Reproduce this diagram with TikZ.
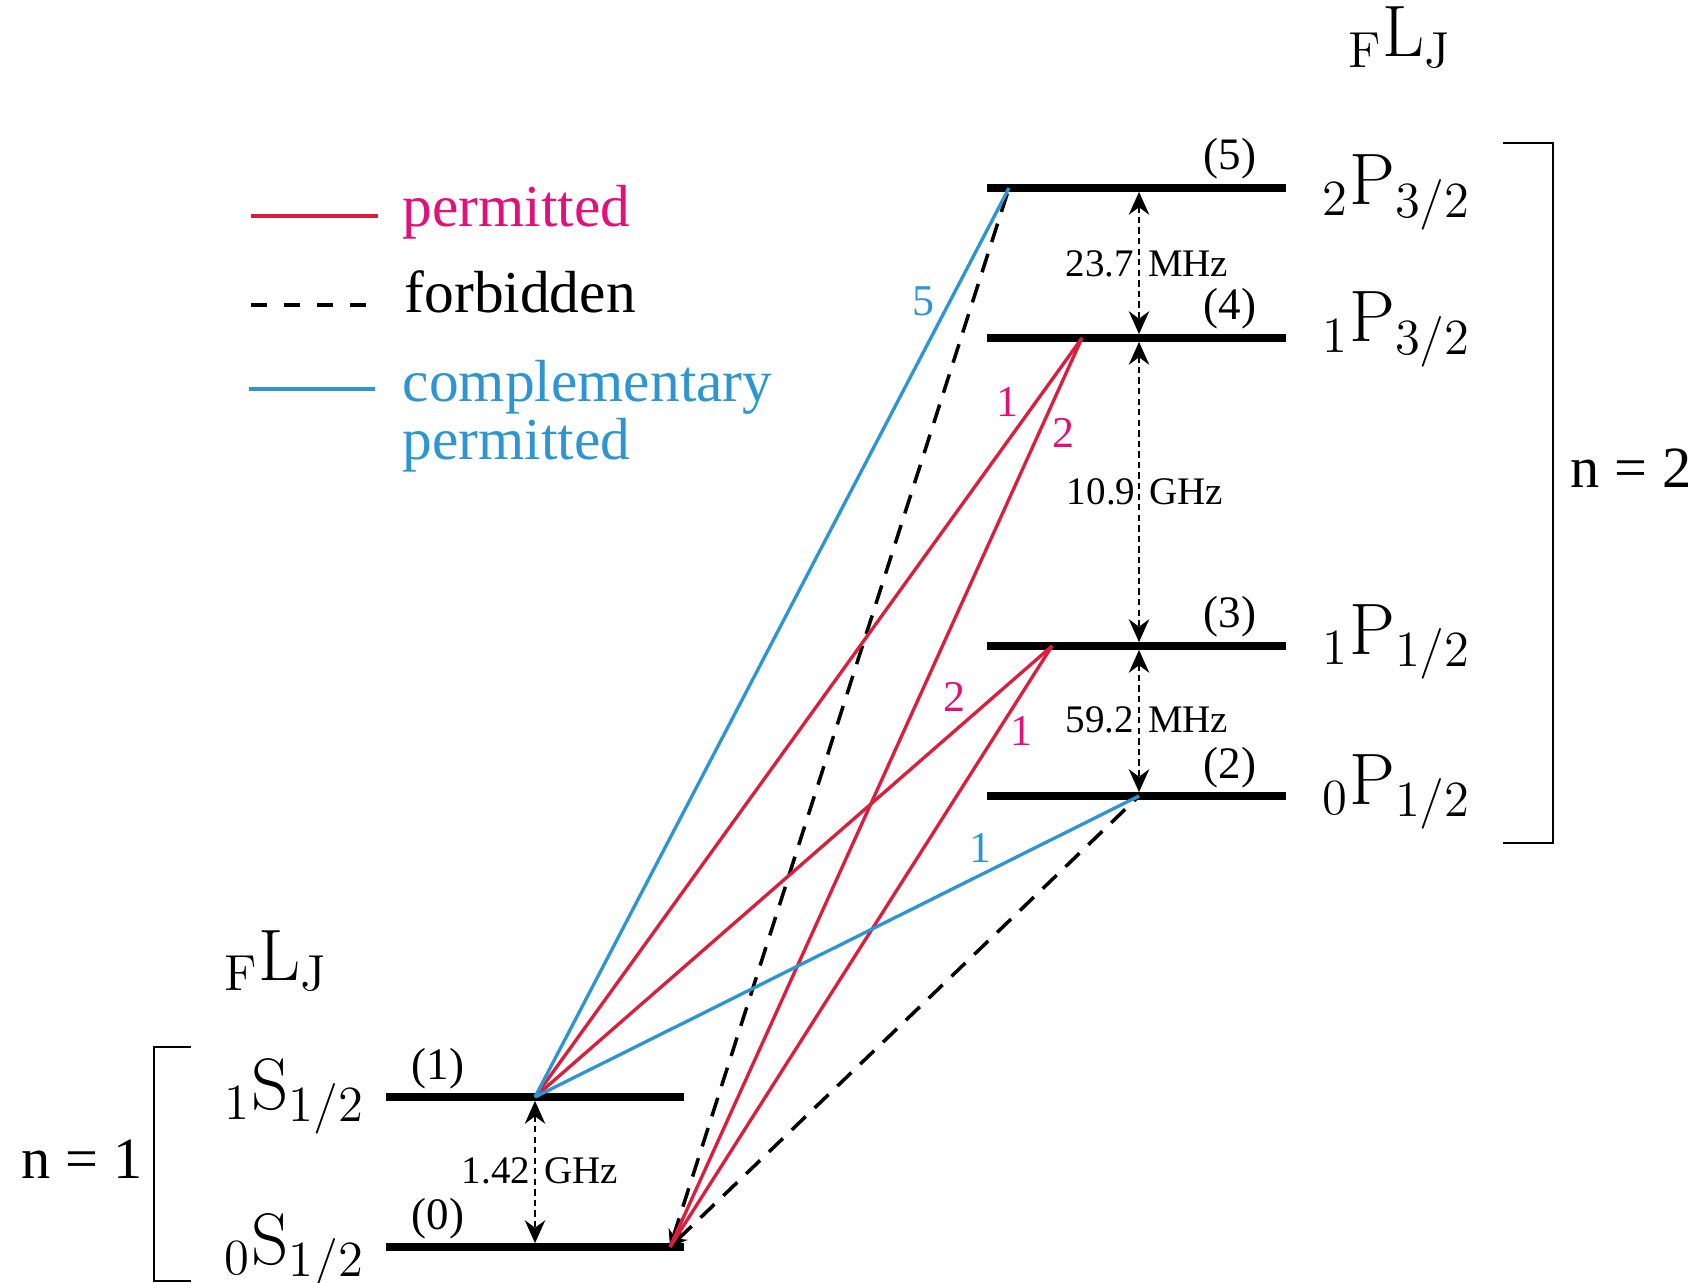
\documentclass[tikz,border=0pt]{standalone}
\usepackage[no-math]{fontspec}
\setmainfont{Liberation Serif}
\usetikzlibrary{arrows.meta}

\definecolor{permred}{RGB}{218,30,60}
\definecolor{permtext}{RGB}{226,16,122}
\definecolor{compblue}{RGB}{45,150,210}

\begin{document}
\begin{tikzpicture}[
    x=0.01cm, y=-0.01cm,
    level/.style={line width=2.3pt},
    perm/.style={permred, line width=0.95pt},
    comp/.style={compblue, line width=0.95pt},
    forb/.style={line width=1pt, dash pattern=on 5.5pt off 3.5pt},
    gap/.style={{Stealth[length=6.5pt,width=5.8pt]}-{Stealth[length=6.5pt,width=5.8pt]},
        line width=0.7pt, dash pattern=on 1.8pt off 1.2pt, shorten <=1.1pt, shorten >=1.1pt},
    freq/.style={font=\fontsize{11.1}{13}\selectfont, inner sep=0pt, anchor=base},
    idx/.style={font=\fontsize{12.8}{15}\selectfont, inner sep=0pt, anchor=base},
    state/.style={font=\fontsize{21.7}{26}\selectfont, inner sep=0pt, anchor=base west},
    shell/.style={font=\fontsize{16.6}{20}\selectfont, inner sep=0pt, anchor=base west},
    legtext/.style={font=\fontsize{16.9}{20}\selectfont, inner sep=0pt, anchor=base west, align=left},
    num/.style={font=\fontsize{12.5}{15}\selectfont, inner sep=0pt}
]
\useasboundingbox (0,0) rectangle (1695,1283);

% energy levels
\coordinate (L0a) at (386,1247);  \coordinate (L0b) at (684,1247);
\coordinate (L1a) at (386,1097);  \coordinate (L1b) at (684,1097);
\coordinate (L2a) at (987,796);   \coordinate (L2b) at (1286,796);
\coordinate (L3a) at (987,646);   \coordinate (L3b) at (1286,646);
\coordinate (L4a) at (987,338);   \coordinate (L4b) at (1286,338);
\coordinate (L5a) at (987,188);   \coordinate (L5b) at (1286,188);
\foreach \k in {0,...,5}
    \draw[level] (L\k a) -- (L\k b);

% transition end points
\coordinate (s0) at (670,1247);
\coordinate (s1) at (535,1097);
\coordinate (p2) at (1139,796);
\coordinate (p3) at (1052,646);
\coordinate (p4) at (1082,338);
\coordinate (p5) at (1009,188);
\coordinate (g3) at (1139,646);
\coordinate (g4) at (1139,338);
\coordinate (g5) at (1139,188);
\coordinate (s0g) at (535,1247);

% transitions
\draw[forb, {Stealth[length=5pt,width=4pt]}-] (s0) -- (p5);
\draw[forb, {Stealth[length=5pt,width=4pt]}-] (s0) -- (p2);
\draw[perm] (s1) -- (p4);
\draw[perm] (s1) -- (p3);
\draw[perm] (s0) -- (p4);
\draw[perm] (s0) -- (p3);
\draw[comp] (s1) -- (p5);
\draw[comp] (s1) -- (p2);

% splittings
\draw[gap] (g5) -- (g4);
\draw[gap] (g4) -- (g3);
\draw[gap] (g3) -- (p2);
\draw[gap] (s1) -- (s0g);
\node[freq] (f54) at (1147,277) {23.7\hspace{4pt}MHz};
\node[freq] (f43) at (1145,505) {10.9\hspace{4pt}GHz};
\node[freq] (f32) at (1147,732) {59.2\hspace{4pt}MHz};
\node[freq] (f10) at (540,1183) {1.42\hspace{4pt}GHz};

% level numbers
\node[idx] (i5) at (1230,170) {(5)};
\node[idx] (i4) at (1230,320) {(4)};
\node[idx] (i3) at (1230,628) {(3)};
\node[idx] (i2) at (1230,778) {(2)};
\node[idx] (i1) at (438,1079) {(1)};
\node[idx] (i0) at (438,1229) {(0)};

% term symbols
\node[state] (t5) at (1322,205) {${}_2\mathrm{P}_{3/2}$};
\node[state] (t4) at (1322,342) {${}_1\mathrm{P}_{3/2}$};
\node[state] (t3) at (1322,654) {${}_1\mathrm{P}_{1/2}$};
\node[state] (t2) at (1322,804) {${}_0\mathrm{P}_{1/2}$};
\node[state] (t1) at (224,1109) {${}_1\mathrm{S}_{1/2}$};
\node[state] (t0) at (224,1264) {${}_0\mathrm{S}_{1/2}$};
\node[state] (hdP) at (1348,57) {${}_\mathrm{F}\mathrm{L}_\mathrm{J}$};
\node[state] (hdS) at (224,980) {${}_\mathrm{F}\mathrm{L}_\mathrm{J}$};

% shells
\draw[line width=0.65pt] (191,1047) -- (154,1047) -- (154,1281) -- (191,1281);
\draw[line width=0.65pt] (1503,143) -- (1553,143) -- (1553,843) -- (1503,843);
\node[shell] (n1) at (21,1178) {n = 1};
\node[shell] (n2) at (1570,488) {n = 2};

% transition strengths
\node[num, compblue] (c5) at (923,301) {5};
\node[num, permtext] (r41) at (1007,402) {1};
\node[num, permtext] (r42) at (1063,433) {2};
\node[num, permtext] (r32) at (954,697) {2};
\node[num, permtext] (r31) at (1021,731) {1};
\node[num, compblue] (c2) at (980,848) {1};

% legend
\coordinate (kp1) at (251,216); \coordinate (kp2) at (378,216);
\coordinate (kf1) at (251,305); \coordinate (kf2) at (378,305);
\coordinate (kc1) at (249,389); \coordinate (kc2) at (375,389);
\draw[perm, line width=1pt] (kp1) -- (kp2);
\draw[forb, dash pattern=on 4.6pt off 4.8pt] (kf1) -- (kf2);
\draw[comp, line width=1pt] (kc1) -- (kc2);
\node[legtext, permtext] (lp) at (402,227) {permitted};
\node[legtext] (lf) at (404,313) {forbidden};
\node[legtext, compblue] (lc) at (402,402) {complementary};
\node[legtext, compblue] (lc2) at (402,460) {permitted};
\end{tikzpicture}
\end{document}
